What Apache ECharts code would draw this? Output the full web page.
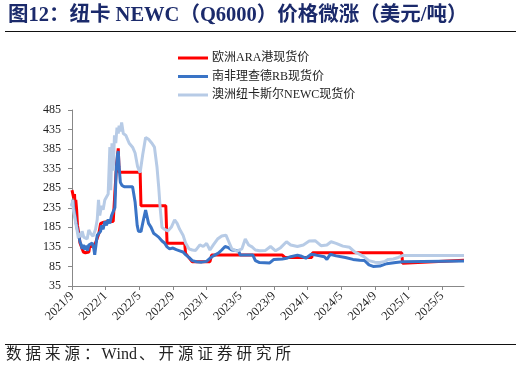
<!DOCTYPE html>
<html>
<head>
<meta charset="utf-8">
<script src="https://cdn.jsdelivr.net/npm/echarts@6/dist/echarts.min.js"></script>
<style>
html,body{margin:0;padding:0;background:#fff;}
#c{width:522px;height:374px;}
</style>
</head>
<body>
<div id="c"></div>
<script>
// x positions: months elapsed since 2021/9/1
const titleText = '图12：纽卡 NEWC（Q6000）价格微涨（美元/吨）';
const sourceText = '数据来源：Wind、开源证券研究所';
const seriesNames = ['欧洲ARA港现货价', '南非理查德RB现货价', '澳洲纽卡斯尔NEWC现货价'];
const yTicks = [35, 85, 135, 185, 235, 285, 335, 385, 435, 485];
const xTicks = [0, 4, 8, 12, 16, 20, 24, 28, 32, 36, 40, 44];
const xTickLabels = ['2021/9', '2022/1', '2022/5', '2022/9', '2023/1', '2023/5', '2023/9', '2024/1', '2024/5', '2024/9', '2025/1', '2025/5'];
const xEnd = 46.6;

const araX = [0, 0.1, 0.2, 0.3, 0.36, 0.45, 0.55, 0.65, 0.8, 0.95, 1.1, 1.35, 1.6, 2.0, 2.1, 2.3, 2.6, 2.8, 3.0, 3.2, 3.4, 3.8, 4.0, 4.3, 4.9, 5.1, 5.3, 5.5, 5.6, 8.1, 8.2, 11.15, 11.3, 13.4, 13.5, 13.8, 14.3, 16.4, 16.6, 25.0, 25.1, 25.3, 28.5, 28.6, 39.2, 39.3, 46.6];
const araY = [280, 285, 260, 270, 240, 255, 230, 190, 170, 145, 140, 122, 120, 122, 135, 140, 138, 145, 148, 170, 195, 198, 197, 200, 200, 275, 345, 387, 326, 326, 240, 240, 144, 144, 118, 110, 97, 97, 114, 114, 119, 108, 108, 120, 120, 93, 101];

const rbX = [0, 0.1, 0.2, 0.35, 0.5, 0.65, 0.8, 0.95, 1.1, 1.2, 1.35, 1.5, 1.7, 1.85, 2.0, 2.2, 2.4, 2.6, 2.7, 2.85, 3.0, 3.2, 3.4, 3.5, 3.7, 3.9, 4.1, 4.3, 4.5, 4.7, 4.9, 5.1, 5.25, 5.4, 5.5, 5.6, 5.75, 5.95, 6.2, 7.2, 7.5, 7.75, 7.9, 8.2, 8.5, 8.75, 9.1, 9.4, 9.7, 10.0, 10.3, 10.7, 11.0, 11.3, 11.6, 12.0, 12.4, 12.8, 13.2, 13.5, 13.9, 14.3, 14.8, 15.4, 16.0, 16.4, 16.8, 17.4, 17.8, 18.2, 18.6, 19.0, 19.8, 20.0, 21.5, 21.8, 22.3, 23.5, 24.0, 25.0, 25.5, 26.0, 26.8, 27.3, 27.8, 28.4, 29.0, 30.0, 30.3, 30.7, 31.4, 32.5, 33.4, 34.2, 34.8, 35.3, 35.8, 36.6, 37.4, 38.5, 39.3, 46.6];
const rbY = [240, 255, 235, 215, 195, 178, 165, 148, 140, 130, 140, 128, 138, 125, 140, 135, 145, 130, 115, 140, 165, 160, 175, 190, 180, 200, 190, 205, 195, 215, 225, 235, 330, 370, 380, 340, 300, 292, 289, 289, 250, 190, 175, 174, 205, 229, 195, 185, 170, 165, 160, 150, 145, 135, 130, 132, 128, 125, 122, 115, 108, 100, 97, 96, 98, 106, 112, 119, 127, 136, 133, 127, 125, 114, 114, 100, 95, 94, 103, 104, 106, 110, 114, 111, 106, 116, 114, 110, 103, 116, 112, 108, 103, 101, 100, 89, 85, 86, 92, 95, 97, 99];

const newcX = [0, 0.08, 0.16, 0.3, 0.45, 0.6, 0.75, 0.9, 1.05, 1.2, 1.4, 1.6, 1.8, 2.0, 2.2, 2.5, 2.8, 3.0, 3.15, 3.3, 3.5, 3.7, 3.9, 4.1, 4.3, 4.5, 4.6, 4.75, 4.9, 5.05, 5.2, 5.35, 5.5, 5.6, 5.75, 5.9, 6.1, 6.4, 6.8, 7.2, 7.5, 7.8, 8.1, 8.4, 8.75, 9.1, 9.5, 9.8, 10.1, 10.3, 10.5, 10.7, 11.0, 11.4, 11.8, 12.2, 12.5, 12.8, 13.2, 13.5, 13.9, 14.3, 14.7, 15.2, 15.6, 16.0, 16.4, 16.8, 17.3, 17.8, 18.3, 18.6, 19.0, 19.6, 20.2, 20.6, 21.0, 21.4, 21.8, 22.3, 23.0, 23.6, 24.2, 24.8, 25.5, 26.0, 26.8, 27.5, 28.2, 28.9, 29.6, 30.3, 30.8, 31.4, 32.2, 33.0, 33.6, 34.2, 34.7, 35.3, 36.0, 36.6, 37.2, 37.6, 38.2, 38.8, 39.3, 46.6];
const newcY = [238, 255, 230, 215, 195, 178, 158, 170, 160, 175, 160, 165, 155, 178, 170, 162, 180, 205, 255, 215, 240, 230, 255, 250, 270, 390, 280, 400, 330, 420, 400, 440, 425, 445, 430, 453, 425, 420, 400, 390, 375, 340, 325, 370, 415, 410, 400, 390, 340, 290, 230, 185, 180, 176, 185, 204, 195, 180, 165, 145, 130, 127, 126, 140, 136, 144, 127, 140, 155, 163, 165, 150, 130, 124, 130, 155, 140, 135, 127, 125, 126, 136, 125, 133, 148, 140, 136, 140, 150, 151, 138, 140, 148, 144, 137, 134, 122, 116, 110, 100, 96, 95, 98, 103, 104, 108, 113, 113];

const zip = (xs, ys) => xs.map((x, i) => [x, ys[i]]);
const serif = '"Liberation Serif", "Times New Roman", "Noto Sans CJK SC", serif';
// wider spacing for CJK glyphs only, Latin kept natural
const spaced = s => Array.from(s).map(c => (c.charCodeAt(0) > 255 ? '{s|' : '{l|') + c + '}').join('');

const chart = echarts.init(document.getElementById('c'), null, {renderer: 'canvas'});
chart.setOption({
  animation: false,
  backgroundColor: '#fff',
  grid: {left: 72, right: 58, top: 110, bottom: 88, containLabel: false},
  legend: {
    orient: 'vertical', left: 178, top: 51, padding: 0,
    itemWidth: 30, itemHeight: 3, itemGap: 4.5,
    icon: 'rect',
    textStyle: {fontFamily: serif, fontSize: 12, color: '#222', lineHeight: 14, padding: [0, 0, 0, -1]},
    data: seriesNames
  },
  xAxis: {
    type: 'value', min: 0, max: xEnd,
    splitLine: {show: false},
    axisLine: {lineStyle: {color: '#888', width: 1}},
    axisTick: {show: true, length: 4, customValues: xTicks, lineStyle: {color: '#888'}},
    axisLabel: {
      customValues: xTicks, rotate: 45, margin: 8,
      fontFamily: serif, fontSize: 12.5, color: '#222',
      formatter: v => xTickLabels[xTicks.indexOf(Math.round(v))] || ''
    }
  },
  yAxis: {
    type: 'value', min: 35, max: 485,
    splitLine: {show: false},
    axisLine: {show: true, lineStyle: {color: '#888', width: 1}},
    axisTick: {show: true, length: 4, customValues: yTicks, lineStyle: {color: '#888'}},
    axisLabel: {customValues: yTicks, margin: 11, fontFamily: serif, fontSize: 12, color: '#222'}
  },
  series: [
    {name: seriesNames[0], type: 'line', data: zip(araX, araY), showSymbol: false, symbol: 'none',
     lineStyle: {color: '#FF0000', width: 3}, itemStyle: {color: '#FF0000'}, z: 2},
    {name: seriesNames[1], type: 'line', data: zip(rbX, rbY), showSymbol: false, symbol: 'none',
     lineStyle: {color: '#3A74C6', width: 3}, itemStyle: {color: '#3A74C6'}, z: 3},
    {name: seriesNames[2], type: 'line', data: zip(newcX, newcY), showSymbol: false, symbol: 'none',
     lineStyle: {color: '#B7CBE6', width: 3}, itemStyle: {color: '#B7CBE6'}, z: 4}
  ],
  graphic: [
    {type: 'text', left: 8, top: 5, style: {text: titleText, fontFamily: serif, fontSize: 20.5, fontWeight: 'bold', fill: '#1B2A6B'}},
    {type: 'line', shape: {x1: 5, y1: 31.5, x2: 516, y2: 31.5}, style: {stroke: '#111', lineWidth: 1}},
    {type: 'line', shape: {x1: 5, y1: 344.5, x2: 516, y2: 344.5}, style: {stroke: '#111', lineWidth: 1}},
    {type: 'text', left: 6, top: 347, style: {
      text: spaced(sourceText), fontFamily: serif, fontSize: 16, fill: '#222',
      rich: {
        s: {fontFamily: serif, fontSize: 15.5, fill: '#222', padding: [0, 2, 0, 2]},
        l: {fontFamily: serif, fontSize: 16, fill: '#222'}
      }
    }}
  ]
});
</script>
</body>
</html>
